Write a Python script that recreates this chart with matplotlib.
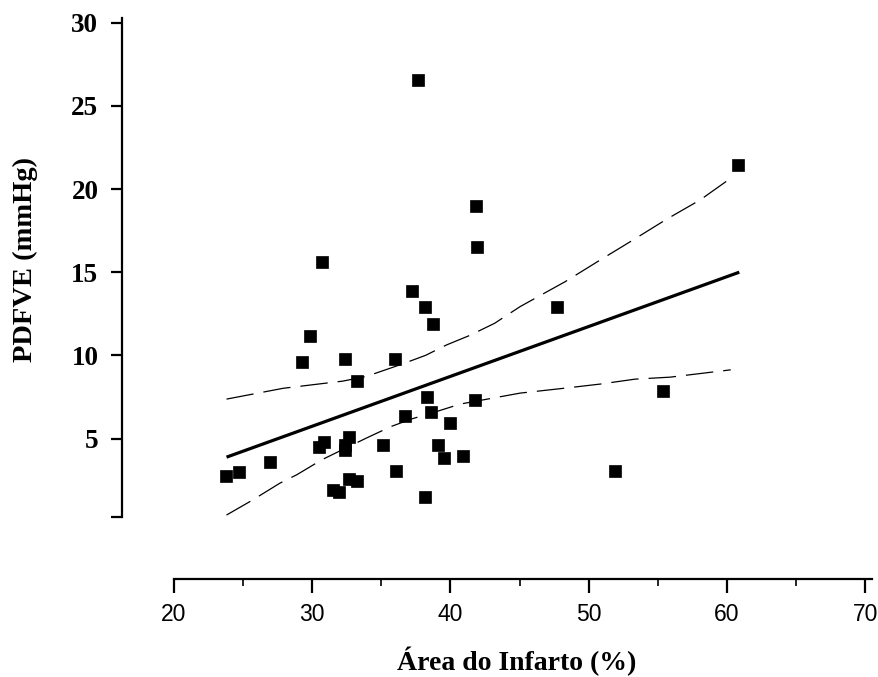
import matplotlib
matplotlib.use("Agg")
import matplotlib.pyplot as plt
import numpy as np

# ---- data ----
area_infarto = [23.78, 24.70, 26.93, 29.24, 29.84, 30.51, 30.69, 30.88, 31.53, 31.96,
                32.37, 32.35, 32.40, 32.68, 32.68, 33.22, 33.22, 35.15, 35.97, 36.06,
                36.71, 37.25, 37.63, 38.14, 38.16, 38.27, 38.60, 38.76, 39.10, 39.51,
                39.95, 40.89, 41.78, 41.83, 41.95, 47.74, 51.91, 55.38, 60.83]
pdfve = [2.72, 2.98, 3.57, 9.61, 11.17, 4.52, 15.62, 4.82, 1.92, 1.81,
         9.79, 4.62, 4.28, 5.08, 2.56, 2.46, 8.47, 4.62, 9.79, 3.06,
         6.35, 13.86, 26.56, 12.91, 1.48, 7.48, 6.62, 11.87, 4.62, 3.84,
         5.93, 3.92, 7.31, 19.00, 16.50, 12.91, 3.04, 7.85, 21.45]

# regression line (read end points)
fit_x = [23.8, 60.9]
fit_y = [3.88, 15.0]

# confidence band
upper_x = [23.8, 27.9, 32.2, 33.9, 36.35, 38.2, 39.73, 41.4, 43.2, 45.04, 48.3,
           50.83, 53.2, 55.65, 58.06, 60.28]
upper_y = [7.37, 8.02, 8.45, 8.73, 9.43, 10.0, 10.63, 11.2, 11.93, 12.93, 14.43,
           15.73, 16.93, 18.19, 19.34, 20.65]
lower_x = [23.8, 25.62, 27.67, 28.88, 30.69, 31.77, 33.9, 35.7, 37.2, 38.76, 40.7,
           45.04, 48.3, 50.8, 53.36, 55.9, 58.3, 60.28]
lower_y = [0.40, 1.27, 2.32, 2.82, 3.72, 4.16, 5.02, 5.72, 6.18, 6.56, 7.07,
           7.73, 8.03, 8.27, 8.57, 8.69, 8.93, 9.13]

x_ticks = [20, 30, 40, 50, 60, 70]
x_minor = [25, 35, 45, 55, 65]
y_ticks = [0.3, 5, 10, 15, 20, 25, 30]
y_ticklabels = ["", "5", "10", "15", "20", "25", "30"]

W, H = 879, 677
fig = plt.figure(figsize=(W / 100, H / 100), dpi=100)
left_px, right_px = 174, 872
bottom_px, top_px = 516.7, 17.7
ax = fig.add_axes([left_px / W, 1 - bottom_px / H,
                   (right_px - left_px) / W, (bottom_px - top_px) / H])
ax.set_xlim(20, 70.5)
ax.set_ylim(0.3, 30.3)

ax.plot(upper_x, upper_y, color="black", lw=0.9, linestyle=(0, (22, 8)))
ax.plot(lower_x, lower_y, color="black", lw=0.9, linestyle=(0, (22, 8)))
ax.plot(fit_x, fit_y, color="black", lw=2.3, solid_capstyle="butt")
ax.plot(area_infarto, pdfve, linestyle="none", marker="s", markersize=8,
        markerfacecolor="black", markeredgecolor="black", markeredgewidth=0.5)

for s in ["top", "right"]:
    ax.spines[s].set_visible(False)
ax.spines["left"].set_position(("outward", 52 * 0.72))
ax.spines["bottom"].set_position(("outward", 62.3 * 0.72))
ax.spines["left"].set_linewidth(1.6)
ax.spines["bottom"].set_linewidth(1.6)

ax.set_xticks(x_ticks)
ax.set_xticks(x_minor, minor=True)
ax.set_xticklabels([str(v) for v in x_ticks], fontfamily="Liberation Sans", fontsize=16.5)
ax.tick_params(axis="x", which="major", length=10, width=1.6, pad=7, direction="out")
ax.tick_params(axis="x", which="minor", length=5, width=1.2, direction="out")

ax.set_yticks(y_ticks)
ax.set_yticklabels(y_ticklabels, fontfamily="Liberation Serif", fontweight="bold",
                   fontsize=19.5)
ax.tick_params(axis="y", which="major", length=8, width=1.6, pad=9, direction="out")

ax.set_xlabel("Área do Infarto (%)", fontfamily="Liberation Serif", fontweight="bold",
              fontsize=20)
ax.xaxis.set_label_coords(517 / W, 1 - 647 / H, transform=fig.transFigure)
ax.set_ylabel("PDFVE (mmHg)", fontfamily="Liberation Serif", fontweight="bold",
              fontsize=20.5)
ax.yaxis.set_label_coords(38 / W, 1 - 260 / H, transform=fig.transFigure)

fig.savefig("out.png", dpi=100, facecolor="white")
